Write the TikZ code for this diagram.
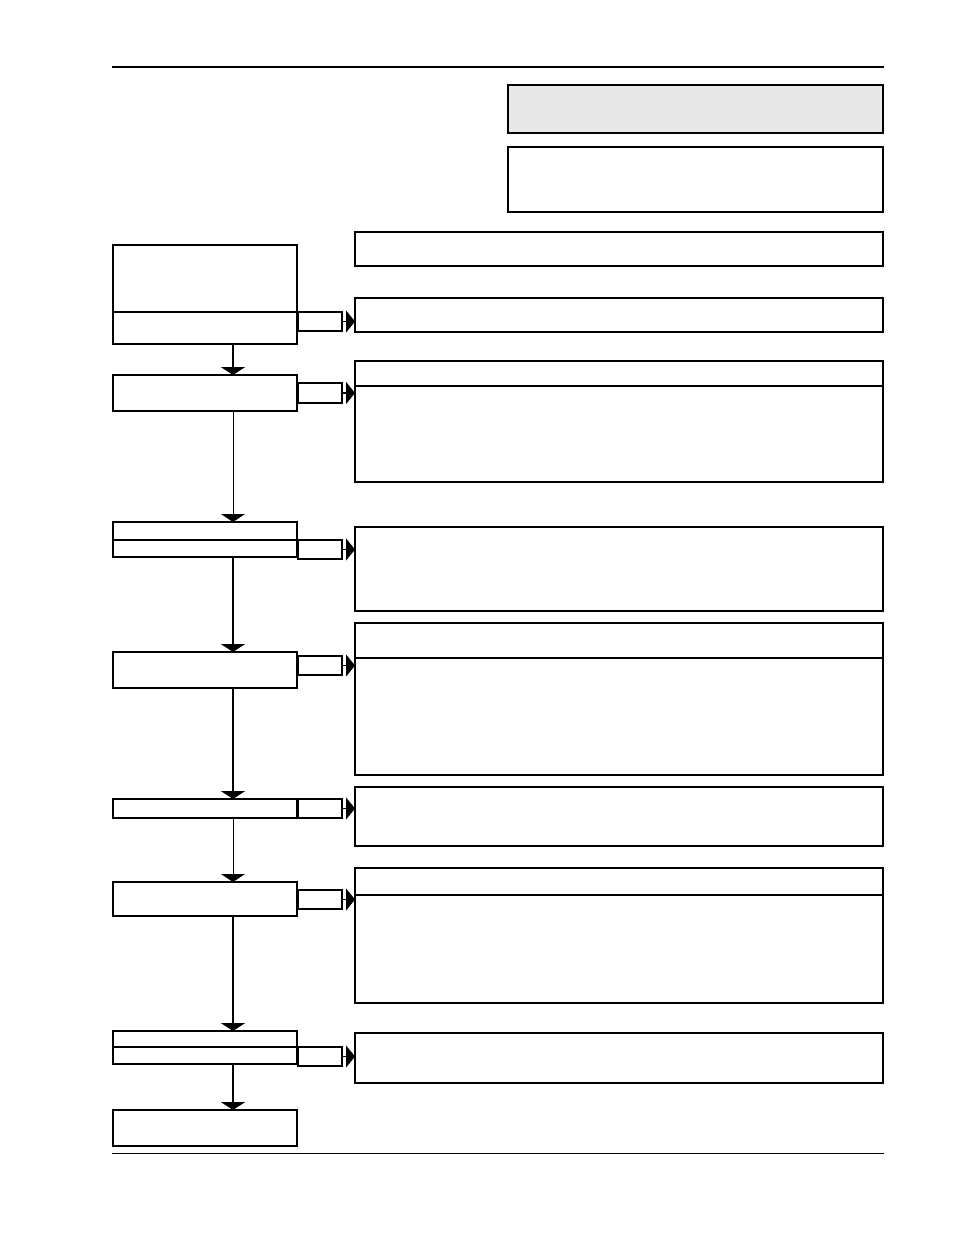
\documentclass[tikz,border=0pt]{standalone}
\usetikzlibrary{arrows.meta, positioning}

\begin{document}
\begin{tikzpicture}[
    x=1pt, y=-1pt,
    % empty boxes of the chart
    base/.style={draw, inner sep=0pt, outer sep=0pt, line width=1.3pt},
    lbox/.style={base, minimum width=184pt},
    lboxbold/.style={lbox, line width=2pt},
    rbox/.style={base, minimum width=528pt, line width=1.8pt},
    sidebox/.style={base, minimum width=44pt, minimum height=19pt, anchor=north west},
    titlebox/.style={base, minimum width=375pt, line width=1.8pt, fill=gray!18},
    % connectors
    flow/.style={line width=2.4pt, -{Triangle[width=24pt, length=8pt]}},
    thinflow/.style={line width=1pt, -{Triangle[width=24pt, length=8pt]}},
    sidearrow/.style={line width=1.3pt, -{Triangle[width=22pt, length=9pt]}}
]
    \useasboundingbox (0,0) rectangle (954,1235);

    % page rules
    \draw[line width=2pt] (112,67) -- (884,67);
    \draw[line width=1pt] (112,1153) -- (884,1153);

    % ==========================================
    % 1. HEADER BOXES
    % ==========================================
    \node[titlebox, minimum height=48pt, anchor=north west] (title) at (508,85) {};
    \node[titlebox, fill=white, minimum height=65pt, anchor=north west] (info) at (508,147) {};

    % ==========================================
    % 2. RIGHT COLUMN
    % ==========================================
    \node[rbox, minimum height=34pt, anchor=north west] (r1) at (355,232) {};
    \node[rbox, minimum height=34pt, anchor=north west] (r2) at (355,298) {};
    \node[rbox, minimum height=25pt, anchor=north west] (r3a) at (355,361) {};
    \node[rbox, minimum height=96pt, below=0pt of r3a] (r3b) {};
    \node[rbox, minimum height=84pt, anchor=north west] (r4) at (355,527) {};
    \node[rbox, minimum height=35pt, anchor=north west] (r5a) at (355,623) {};
    \node[rbox, minimum height=117pt, below=0pt of r5a] (r5b) {};
    \node[rbox, minimum height=59pt, anchor=north west] (r6) at (355,787) {};
    \node[rbox, minimum height=27pt, anchor=north west] (r7a) at (355,868) {};
    \node[rbox, minimum height=108pt, below=0pt of r7a] (r7b) {};
    \node[rbox, minimum height=50pt, anchor=north west] (r8) at (355,1033) {};

    % ==========================================
    % 3. LEFT COLUMN
    % ==========================================
    \node[lbox, minimum height=67pt, anchor=north west] (l1a) at (113,245) {};
    \node[lbox, minimum height=32pt, below=0pt of l1a] (l1b) {};
    \node[lboxbold, minimum height=36pt, anchor=north west] (l2) at (113,375) {};
    \node[lbox, minimum height=18pt, anchor=north west] (l3a) at (113,522) {};
    \node[lbox, minimum height=17pt, below=0pt of l3a] (l3b) {};
    \node[lbox, minimum height=36pt, anchor=north west] (l4) at (113,652) {};
    \node[lbox, minimum height=19pt, anchor=north west] (l5) at (113,799) {};
    \node[lbox, minimum height=34pt, anchor=north west] (l6) at (113,882) {};
    \node[lbox, minimum height=16pt, anchor=north west] (l7a) at (113,1031) {};
    \node[lbox, minimum height=17pt, below=0pt of l7a] (l7b) {};
    \node[lboxbold, minimum height=36pt, anchor=north west] (l8) at (113,1110) {};

    % small side boxes
    \node[sidebox] (s1) at (298,312) {};
    \node[sidebox, minimum height=20pt] (s2) at (298,383) {};
    \node[sidebox] (s3) at (298,540) {};
    \node[sidebox] (s4) at (298,656) {};
    \node[sidebox] (s5) at (298,799) {};
    \node[sidebox] (s6) at (298,890) {};
    \node[sidebox] (s7) at (298,1047) {};

    % ==========================================
    % 4. CONNECTIONS
    % ==========================================
    \coordinate (spine) at (233,0);
    \draw[flow] (l1b.south -| spine) -- (l2.north -| spine);
    \draw[thinflow] (l2.south -| spine) -- (l3a.north -| spine);
    \draw[flow] (l3b.south -| spine) -- (l4.north -| spine);
    \draw[flow] (l4.south -| spine) -- (l5.north -| spine);
    \draw[thinflow] (l5.south -| spine) -- (l6.north -| spine);
    \draw[flow] (l6.south -| spine) -- (l7a.north -| spine);
    \draw[flow] (l7b.south -| spine) -- (l8.north -| spine);

    \draw[sidearrow] (s1.east) -- (s1.east -| r2.west);
    \draw[sidearrow] (s2.east) -- (s2.east -| r3b.west);
    \draw[sidearrow] (s3.east) -- (s3.east -| r4.west);
    \draw[sidearrow] (s4.east) -- (s4.east -| r5b.west);
    \draw[sidearrow] (s5.east) -- (s5.east -| r6.west);
    \draw[sidearrow] (s6.east) -- (s6.east -| r7b.west);
    \draw[sidearrow] (s7.east) -- (s7.east -| r8.west);

\end{tikzpicture}
\end{document}
